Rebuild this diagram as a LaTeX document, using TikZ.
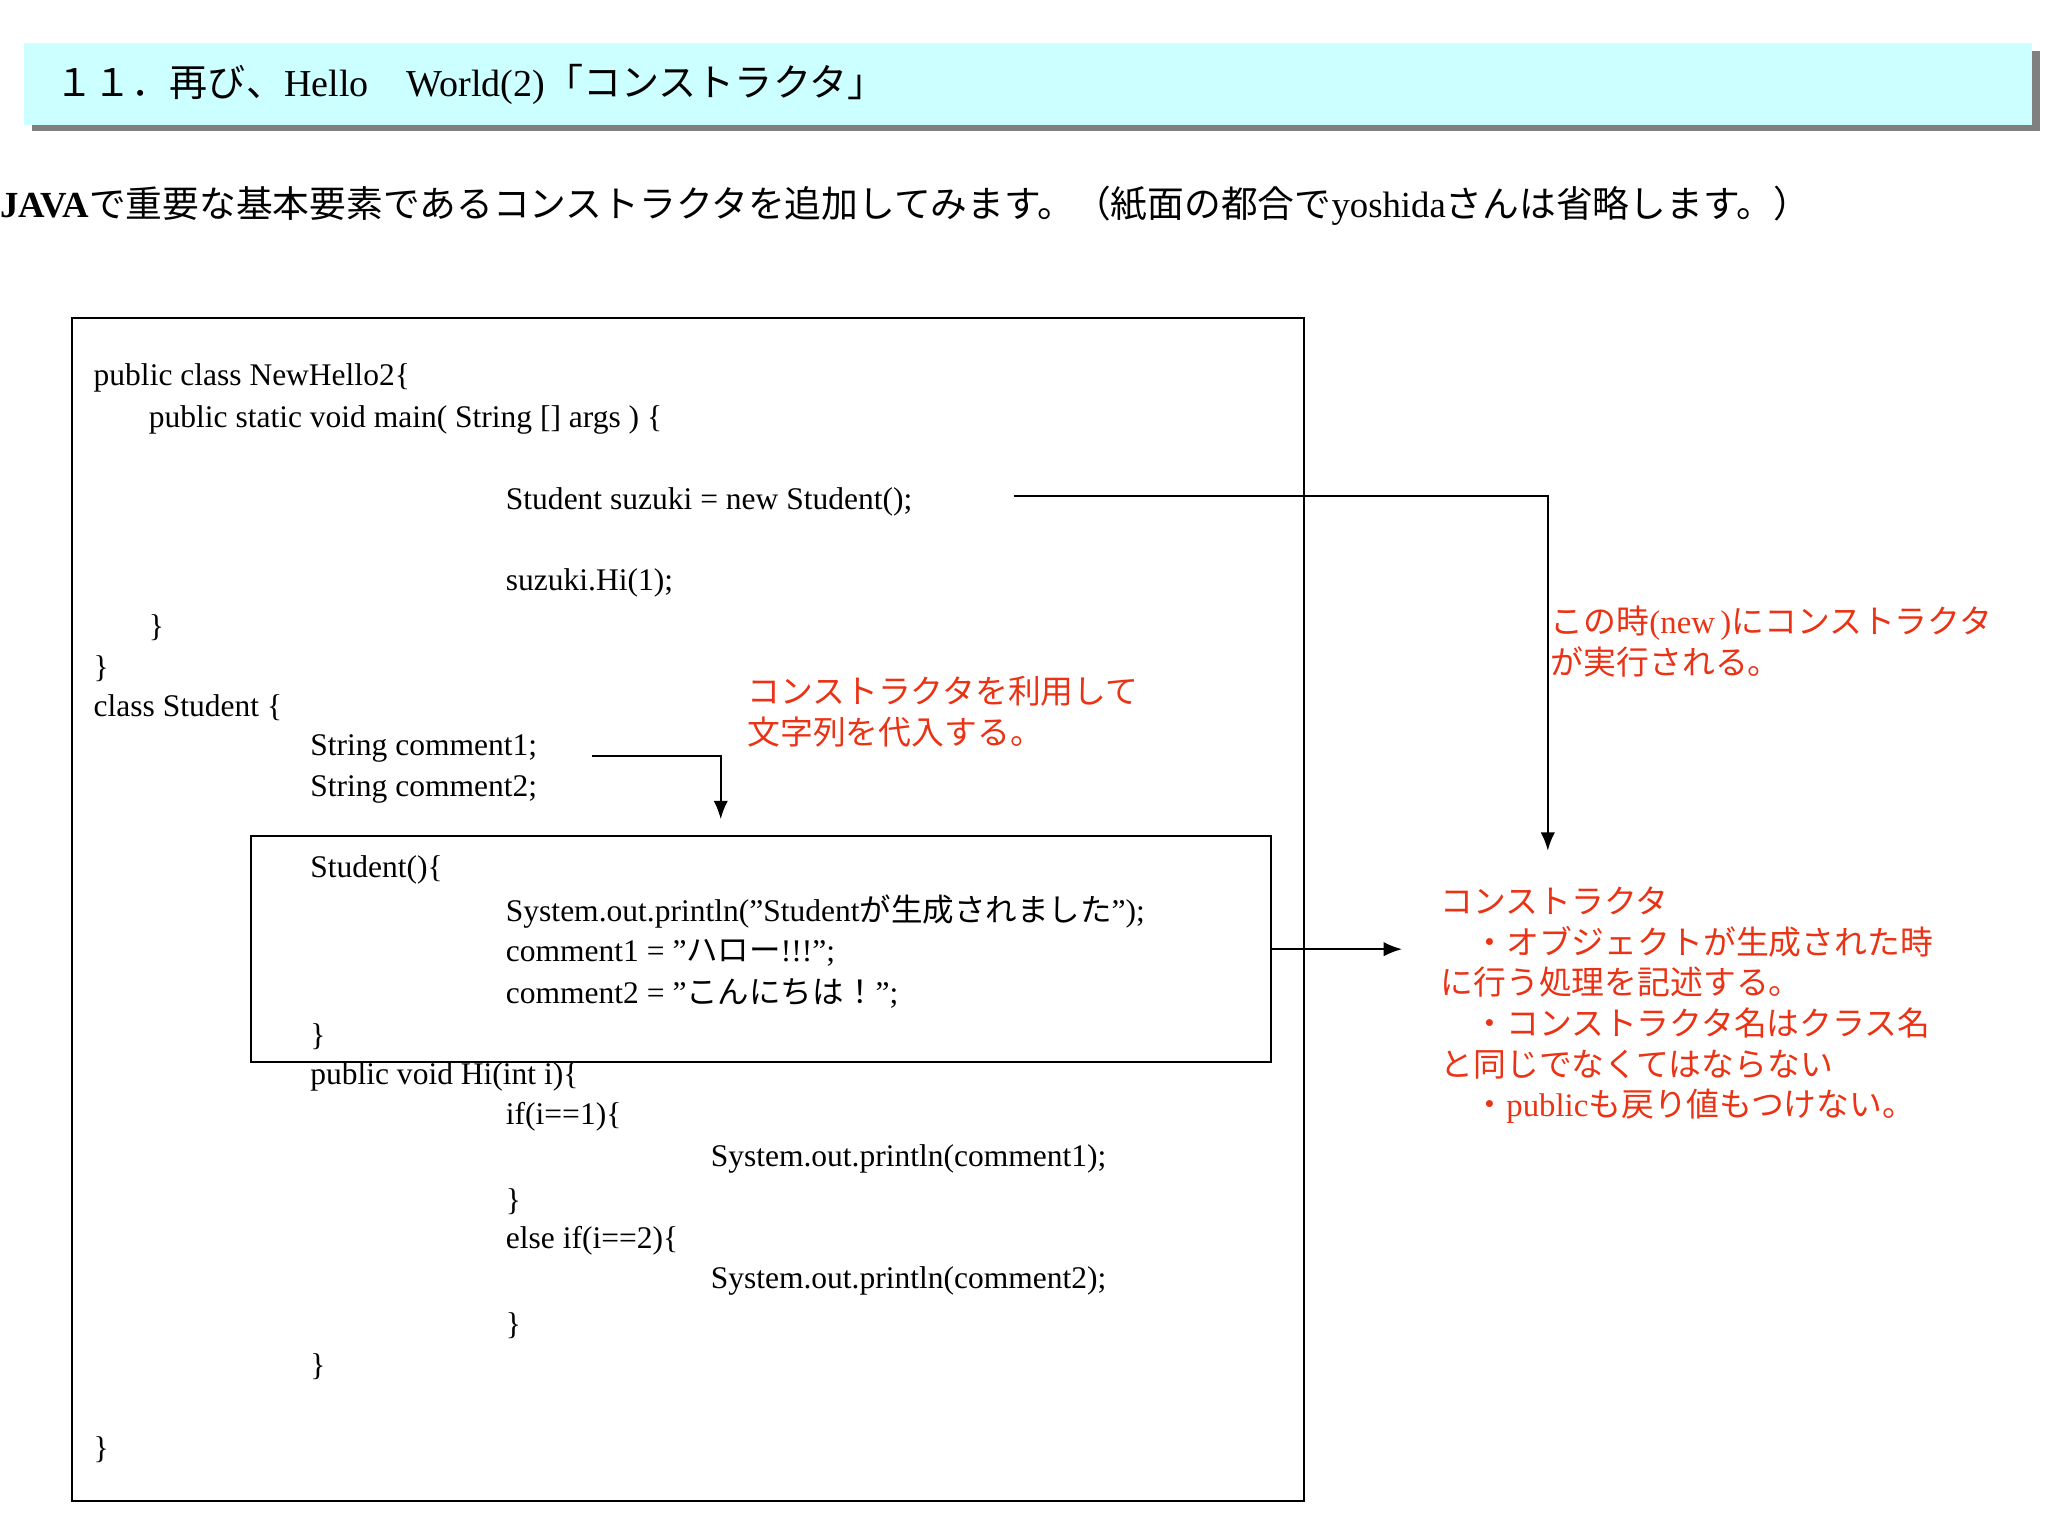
\documentclass[tikz,border=0pt]{standalone}
\usepackage{fontspec}
\setmainfont{Liberation Serif}
\newfontfamily\cj{Noto Sans CJK JP}
\definecolor{bar}{RGB}{204,255,255}
\definecolor{shd}{RGB}{128,128,128}
\definecolor{rd}{RGB}{235,50,20}
\begin{document}
\begin{tikzpicture}[x=0.5pt,y=-0.5pt,
  code/.style={anchor=west,inner sep=0pt,font=\fontsize{12}{12}\selectfont},
  note/.style={anchor=north west,inner sep=0pt,align=left,text=rd,font=\cj\fontsize{12.5}{15.5}\selectfont},
  arr/.style={-{Latex[length=7pt,width=5.5pt]},thick}]
\usetikzlibrary{arrows.meta}
\useasboundingbox (0,0) rectangle (1560,1170);
\fill[shd] (24,39) rectangle (1554,100);
\fill[bar] (18,33) rectangle (1548,95);
\node[code,font=\cj\fontsize{14.5}{14.5}\selectfont] (title) at (42,64) {１１．再び、{\rmfamily Hello\quad World(2)}「コンストラクタ」};
\node[code,font=\cj\fontsize{14}{14}\selectfont] (sub) at (0,157) {{\rmfamily\bfseries JAVA}で重要な基本要素であるコンストラクタを追加してみます。（紙面の都合で{\rmfamily yoshida}さんは省略します。）};
\draw[thick] (55,242) rectangle (993,1143);
\draw[thick] (191,637) rectangle (968,809);
\node[code] at (71,288) {public class NewHello2\{};
\node[code] at (113,320) {public static void main( String [] args ) \{};
\node[code] (l1) at (385,382) {Student suzuki = new Student();};
\node[code] at (385,444) {suzuki.Hi(1);};
\node[code] at (113,478) {\}};
\node[code] at (71,509) {\}};
\node[code] at (71,539) {class Student \{};
\node[code] at (236,570) {String comment1;};
\node[code] at (236,601) {String comment2;};
\node[code] at (236,663) {Student()\{};
\node[code] at (385,694) {System.out.println("Student{\cj が生成されました}");};
\node[code] at (385,726) {comment1 = "{\cj ハロー}!!!";};
\node[code] at (385,757) {comment2 = "{\cj こんにちは！}";};
\node[code] at (236,790) {\}};
\node[code] at (236,820) {public void Hi(int i)\{};
\node[code] at (385,851) {if(i==1)\{};
\node[code] at (541,883) {System.out.println(comment1);};
\node[code] at (385,915) {\}};
\node[code] at (385,945) {else if(i==2)\{};
\node[code] at (541,976) {System.out.println(comment2);};
\node[code] at (385,1010) {\}};
\node[code] at (236,1041) {\}};
\node[code] at (71,1104) {\}};
\node[note] (n1) at (1181,461) {この時{\rmfamily (new\,)}にコンストラクタ\\が実行される。};
\node[note] (n2) at (569,515) {コンストラクタを利用して\\文字列を代入する。};
\node[note] (n3) at (1097,675) {コンストラクタ\\　・オブジェクトが生成された時\\に行う処理を記述する。\\　・コンストラクタ名はクラス名\\と同じでなくてはならない\\　・{\rmfamily public}も戻り値もつけない。};
\coordinate (a1) at (772,378); \coordinate (a2) at (1179,378); \coordinate (a3) at (1179,648);
\draw[arr] (a1) -- (a2) -- (a3);
\coordinate (b1) at (451,576); \coordinate (b2) at (549,576); \coordinate (b3) at (549,624);
\draw[arr] (b1) -- (b2) -- (b3);
\coordinate (c1) at (968,723); \coordinate (c2) at (1068,723);
\draw[arr] (c1) -- (c2);
\end{tikzpicture}
\end{document}
